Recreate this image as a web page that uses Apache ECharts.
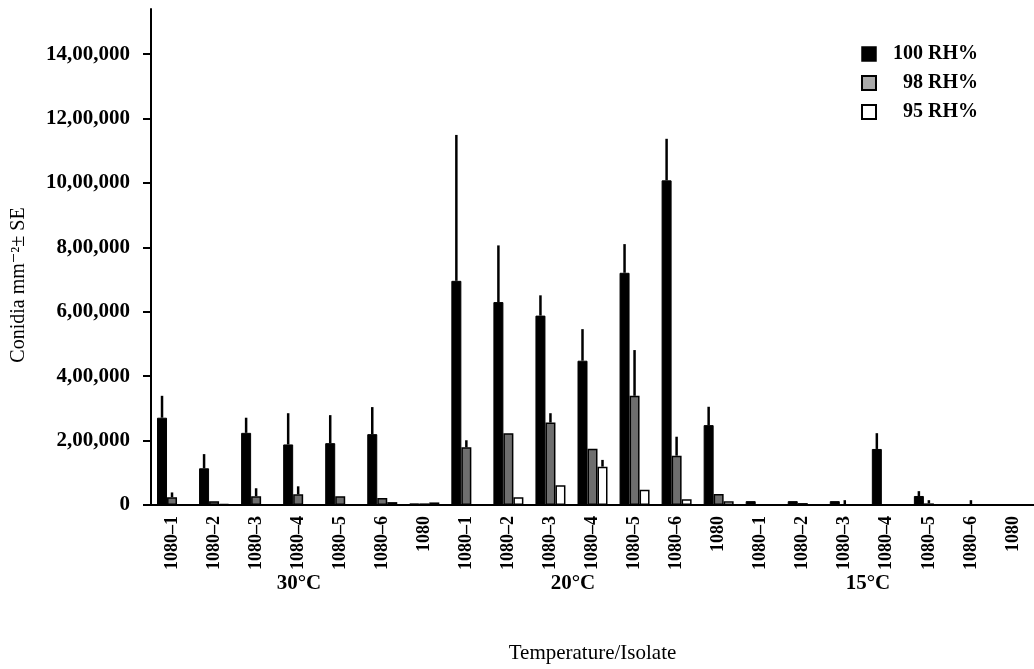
<!DOCTYPE html>
<html>
<head>
<meta charset="utf-8">
<script src="https://cdn.jsdelivr.net/npm/echarts@6/dist/echarts.min.js"></script>
<style>
  html, body { margin: 0; padding: 0; background: #fff; }
  #chart { width: 1034px; height: 669px; }
</style>
</head>
<body>
<div id="chart"></div>
<script>
// isolates, 7 per temperature
const isolates = ['1080–1', '1080–2', '1080–3', '1080–4', '1080–5', '1080–6', '1080']
const temps = ['30°C', '20°C', '15°C']
const categories = temps.flatMap(() => isolates)

const seriesNames = ['100 RH%', '98 RH%', '95 RH%']

// conidia mm-2
const rh100 = [271000, 114000, 224000, 188000, 192000, 220000, 5000,
  696000, 630000, 588000, 448000, 721000, 1008000, 248000,
  12000, 12000, 12000, 174000, 28000, 0, 0]
const rh98 = [24000, 12000, 27000, 33000, 27000, 22000, 5000,
  179000, 223000, 256000, 175000, 339000, 153000, 34000,
  0, 6000, 2000, 0, 5000, 2000, 0]
const rh95 = [0, 3000, 0, 0, 0, 9000, 8000,
  0, 24000, 61000, 119000, 47000, 18000, 12000,
  0, 0, 0, 0, 0, 0, 0]

// standard errors (drawn upward only)
const se100 = [68000, 44000, 47000, 97000, 87000, 84000, 0,
  453000, 176000, 63000, 98000, 89000, 129000, 57000,
  0, 0, 0, 49000, 15000, 0, 0]
const se98 = [15000, 0, 25000, 25000, 0, 0, 0,
  22000, 0, 29000, 0, 142000, 59000, 0,
  0, 0, 13000, 0, 10000, 13000, 0]
const se95 = [0, 0, 0, 0, 0, 0, 0,
  0, 0, 0, 21000, 0, 0, 0,
  0, 0, 0, 0, 0, 0, 0]

const yTicks = [0, 200000, 400000, 600000, 800000, 1000000, 1200000, 1400000]

const FONT = '"Liberation Serif", "DejaVu Serif", serif'
const BAR_W = 10

function indian(n) {
  const s = String(n)
  if (s.length <= 3) return s
  const last3 = s.slice(-3)
  let rest = s.slice(0, -3)
  const parts = []
  while (rest.length > 2) {
    parts.unshift(rest.slice(-2))
    rest = rest.slice(0, -2)
  }
  if (rest) parts.unshift(rest)
  return parts.join(',') + ',' + last3
}

// error bars as a custom series, shifted onto bar k of the group
function errorSeries(vals, errs, k) {
  return {
    type: 'custom',
    z: 3,
    silent: true,
    encode: { x: 0, y: [1, 2] },
    data: vals.map((v, i) => [i, v, v + errs[i]]),
    renderItem: function (params, api) {
      if (api.value(2) <= api.value(1)) return
      const dx = (k - 1) * BAR_W
      const p0 = api.coord([api.value(0), api.value(1)])
      const p1 = api.coord([api.value(0), api.value(2)])
      return {
        type: 'line',
        shape: { x1: p0[0] + dx, y1: p0[1], x2: p1[0] + dx, y2: p1[1] },
        style: { stroke: '#000', lineWidth: 2.5 }
      }
    }
  }
}

const chart = echarts.init(document.getElementById('chart'))

chart.setOption({
  backgroundColor: '#ffffff',
  animation: false,
  grid: { left: 151, top: 9, width: 888, height: 496 },
  legend: {
    orient: 'vertical',
    left: 856,
    top: 39,
    icon: 'rect',
    itemWidth: 14,
    itemHeight: 14,
    itemGap: 9,
    data: [
      { name: seriesNames[0], itemStyle: { color: '#000', borderColor: '#000', borderWidth: 1.5 } },
      { name: seriesNames[1], itemStyle: { color: '#aaaaaa', borderColor: '#000', borderWidth: 2 } },
      { name: seriesNames[2], itemStyle: { color: '#fff', borderColor: '#000', borderWidth: 2 } }
    ],
    formatter: name => '{t|' + name + '}',
    textStyle: {
      rich: {
        t: { width: 97, align: 'right', fontFamily: FONT, fontWeight: 'bold', fontSize: 20, color: '#000' }
      }
    }
  },
  xAxis: {
    type: 'category',
    data: categories,
    axisLine: { lineStyle: { color: '#000', width: 2 } },
    axisTick: { length: 7, lineStyle: { color: '#000', width: 2 } },
    axisLabel: {
      rotate: 90,
      margin: 11,
      interval: 0,
      color: '#000',
      fontFamily: FONT,
      fontWeight: 'bold',
      fontSize: 18
    },
    name: 'Temperature/Isolate',
    nameLocation: 'middle',
    nameGap: 138,
    nameTextStyle: { color: '#000', fontFamily: FONT, fontSize: 21 }
  },
  yAxis: {
    type: 'value',
    min: 0,
    max: 1540000,
    splitLine: { show: false },
    axisLine: { show: true, lineStyle: { color: '#000', width: 2 } },
    axisTick: { show: true, length: 8, customValues: yTicks, lineStyle: { color: '#000', width: 2 } },
    axisLabel: {
      customValues: yTicks,
      margin: 21,
      color: '#000',
      fontFamily: FONT,
      fontWeight: 'bold',
      fontSize: 21,
      formatter: v => indian(v)
    }
  },
  graphic: [
    {
      type: 'text',
      rotation: Math.PI / 2,
      x: 19, y: 285,
      style: { text: 'Conidia mm⁻²± SE', font: '20px ' + FONT, fill: '#000', align: 'center', verticalAlign: 'middle' }
    },
    { type: 'text', x: 299, y: 584, style: { text: temps[0], font: 'bold 21px ' + FONT, fill: '#000', align: 'center', verticalAlign: 'middle' } },
    { type: 'text', x: 573, y: 584, style: { text: temps[1], font: 'bold 21px ' + FONT, fill: '#000', align: 'center', verticalAlign: 'middle' } },
    { type: 'text', x: 868, y: 584, style: { text: temps[2], font: 'bold 21px ' + FONT, fill: '#000', align: 'center', verticalAlign: 'middle' } }
  ],
  series: [
    {
      name: seriesNames[0], type: 'bar', data: rh100, barWidth: BAR_W, barGap: '0%',
      itemStyle: { color: '#000', borderColor: '#000', borderWidth: 1 }
    },
    {
      name: seriesNames[1], type: 'bar', data: rh98, barWidth: BAR_W, barGap: '0%',
      itemStyle: { color: '#6e6e6e', borderColor: '#000', borderWidth: 1.5 }
    },
    {
      name: seriesNames[2], type: 'bar', data: rh95, barWidth: BAR_W, barGap: '0%',
      itemStyle: { color: '#fff', borderColor: '#000', borderWidth: 1.5 }
    },
    errorSeries(rh100, se100, 0),
    errorSeries(rh98, se98, 1),
    errorSeries(rh95, se95, 2)
  ]
})
</script>
</body>
</html>
